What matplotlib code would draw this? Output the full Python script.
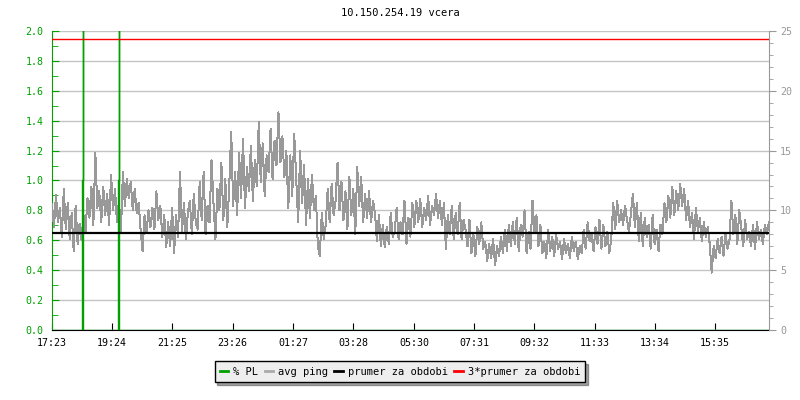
import numpy as np
import matplotlib
matplotlib.use("Agg")
import matplotlib.pyplot as plt
from matplotlib.lines import Line2D

# avg ping (ms), one value every ~4 minutes over 24 h
ping = [
    10.5, 8.6, 11.3, 9.0, 10.2,   7.8, 11.8, 8.4, 10.6, 7.6,   9.8, 6.6, 10.4, 7.2, 8.9,
    7.5, 9.6, 8.2, 11.0, 9.4,     12.0, 8.8, 14.8, 10.2, 11.6, 9.0, 12.0, 9.6, 11.4, 8.8,
    13.0, 10.0, 11.8, 9.0, 10.8,  8.2, 13.2, 10.4, 12.6, 11.0, 12.4, 10.0, 11.8, 9.8, 10.6,
    8.4, 6.6, 9.6, 8.2, 10.0,     8.6, 10.2, 8.4, 11.6, 9.2,   10.4, 7.8, 9.6, 6.9, 9.0,
    7.0, 10.2, 6.4, 9.6, 7.8,     13.2, 8.2, 10.6, 7.6, 9.8,   10.8, 8.0, 11.4, 9.0, 8.4,
    12.4, 9.2, 13.2, 8.0, 10.4,   9.0, 14.2, 10.6, 7.6, 11.8,  10.0, 14.0, 9.2, 12.6, 8.6,
    12.0, 16.6, 10.4, 13.2, 9.6,  14.8, 11.0, 16.0, 10.2, 13.6, 11.6, 15.4, 10.8, 14.2, 12.0,
    17.4, 12.4, 15.6, 11.2, 14.6, 13.2, 16.8, 12.6, 15.8, 13.8, 18.2, 14.0, 16.2, 12.8, 15.0,
    10.2, 14.6, 11.2, 16.4, 12.8, 9.0, 15.0, 10.6, 13.8, 8.8,  12.6, 9.4, 13.0, 10.0, 11.2,
    7.0, 6.2, 9.8, 7.6, 8.8,      11.8, 9.0, 12.2, 9.6, 10.8,  14.0, 10.0, 12.4, 9.2, 11.6,
    8.4, 12.8, 9.6, 11.8, 8.0,    13.6, 10.4, 12.8, 9.0, 11.4, 9.4, 11.6, 9.0, 10.8, 9.8,
    7.4, 9.6, 7.0, 8.8, 6.9,      8.6, 7.2, 9.8, 7.8, 8.2,     10.2, 7.6, 9.0, 8.0, 10.8,
    7.2, 9.4, 7.8, 10.6, 8.6,     10.8, 9.0, 11.0, 8.6, 10.2,  9.2, 11.2, 8.8, 10.4, 9.6,
    11.4, 9.4, 10.8, 8.8, 10.6,   6.8, 9.6, 8.0, 10.4, 7.6,    9.8, 8.0, 10.6, 7.6, 9.2,
    8.4, 7.0, 9.2, 6.4, 8.0,      6.2, 8.6, 7.2, 9.0, 6.8,     7.4, 5.8, 7.2, 6.0, 7.6,
    5.4, 7.0, 6.2, 7.8, 6.4,      8.4, 6.6, 8.8, 7.0, 9.0,     7.2, 9.4, 6.6, 8.8, 7.8,
    10.0, 6.4, 8.2, 6.8, 10.8,    8.2, 9.6, 7.0, 8.8, 6.4,     7.4, 6.0, 8.4, 6.6, 7.8,
    6.2, 8.0, 6.8, 7.4, 5.9,      7.6, 6.4, 7.2, 6.0, 7.8,     6.6, 7.4, 5.9, 7.0, 6.4,
    8.4, 6.8, 9.0, 7.4, 8.0,      6.6, 8.6, 7.2, 9.2, 6.8,     8.8, 7.0, 8.2, 6.4, 7.6,
    10.6, 8.4, 10.8, 9.0, 10.0,   8.8, 10.4, 9.2, 8.2, 9.8,    11.4, 8.6, 10.6, 7.4, 9.8,
    7.0, 9.4, 7.8, 8.8, 6.8,      9.6, 7.2, 8.4, 6.6, 8.8,     8.0, 10.6, 9.0, 11.2, 9.4,
    12.0, 9.6, 11.6, 10.0, 12.2,  10.4, 11.8, 9.2, 10.8, 8.6,  9.8, 7.6, 10.2, 8.2, 9.4,
    7.4, 9.0, 7.8, 8.6, 7.2,      4.8, 7.0, 6.0, 7.6, 6.4,     7.8, 6.2, 8.0, 6.8, 7.4,
    10.8, 8.0, 9.6, 7.2, 10.0,    8.6, 7.0, 9.2, 7.6, 8.2,     7.0, 8.8, 6.8, 9.0, 7.6,
    8.4, 7.2, 8.8, 8.0, 9.0,
]
ping_t = np.linspace(0, 1440, len(ping))  # minutes since 17:23

# packet loss (%), left axis - two spikes, the tall ones run off the top
pl_t = [0, 60, 60, 62, 62, 62, 132, 132, 134, 134, 134, 1440]
pl = [0, 0, 1.0, 1.0, 5.0, 0, 0, 1.0, 1.0, 5.0, 0, 0]

mean_ping = 8.1  # prumer za obdobi

tick_min = [0, 121, 242, 363, 484, 605, 727, 848, 969, 1090, 1211, 1332]
tick_lab = ['17:23', '19:24', '21:25', '23:26', '01:27', '03:28',
            '05:30', '07:31', '09:32', '11:33', '13:34', '15:35']

green = '#00a000'
gray = '#999999'
plt.rcParams['font.family'] = 'DejaVu Sans Mono'
plt.rcParams['font.size'] = 7.2

fig = plt.figure(figsize=(8, 4), dpi=100)
ax = fig.add_axes([0.065, 0.175, 0.896, 0.7475])
ax2 = ax.twinx()

ax.set_xlim(0, 1440)
ax.set_ylim(0, 2.0)
ax2.set_ylim(0, 25)

# grid
ax.set_yticks(np.arange(0, 2.01, 0.2))
ax.set_yticks(np.arange(0, 2.01, 0.1), minor=True)
ax.yaxis.grid(True, color='#c4c4c4', lw=1)
ax.set_axisbelow(True)
ax.set_yticklabels(['%.1f' % v for v in np.arange(0, 2.01, 0.2)])

# lines (all on ax2 so the order is ping < PL < mean < 3*mean)
ax2.plot(ping_t, ping, color=gray, lw=0.72, zorder=2, antialiased=False)
ax2.plot(pl_t, pl, color=green, lw=1.0, zorder=3, transform=ax.transData)
ax2.axhline(mean_ping, color='black', lw=1.6, zorder=4)
ax2.axhline(3 * mean_ping, color='red', lw=1, zorder=5)

# axes styling
ax.set_xticks(tick_min)
ax.set_xticklabels(tick_lab)
ax.tick_params(axis='x', direction='in', length=5, colors='black', pad=6)
ax.tick_params(axis='y', which='both', direction='in', colors=green, pad=6)
ax.tick_params(axis='y', which='major', length=5)
ax.tick_params(axis='y', which='minor', length=4)
ax.spines['left'].set_color(green)
ax.spines['bottom'].set_color('black')
ax.spines['top'].set_visible(False)
ax.spines['right'].set_visible(False)

ax2.set_yticks(np.arange(0, 26, 5))
ax2.set_yticks(np.arange(0, 26, 1), minor=True)
ax2.tick_params(axis='y', which='both', direction='out', colors=gray, pad=3)
ax2.tick_params(axis='y', which='major', length=5)
ax2.tick_params(axis='y', which='minor', length=3)
ax2.spines['right'].set_color(gray)
ax2.spines['left'].set_visible(False)
ax2.spines['top'].set_visible(False)
ax2.spines['bottom'].set_visible(False)

fig.text(0.5, 0.967, '10.150.254.19 vcera', ha='center', va='center', fontsize=7.5)

handles = [Line2D([], [], color=green, lw=2),
           Line2D([], [], color='#aaaaaa', lw=2),
           Line2D([], [], color='black', lw=2),
           Line2D([], [], color='red', lw=2)]
labels = ['% PL', 'avg ping', 'prumer za obdobi', '3*prumer za obdobi']
leg = fig.legend(handles, labels, loc='center', bbox_to_anchor=(0.5, 0.071), ncol=4,
                 frameon=True, fancybox=False, shadow=True, handlelength=0.8,
                 handletextpad=0.5, columnspacing=0.6, borderpad=0.5, fontsize=7.5)
leg.get_frame().set_edgecolor('black')
leg.get_frame().set_facecolor('#eeeeee')
leg.get_frame().set_linewidth(1)

fig.savefig('out.png', dpi=100)
